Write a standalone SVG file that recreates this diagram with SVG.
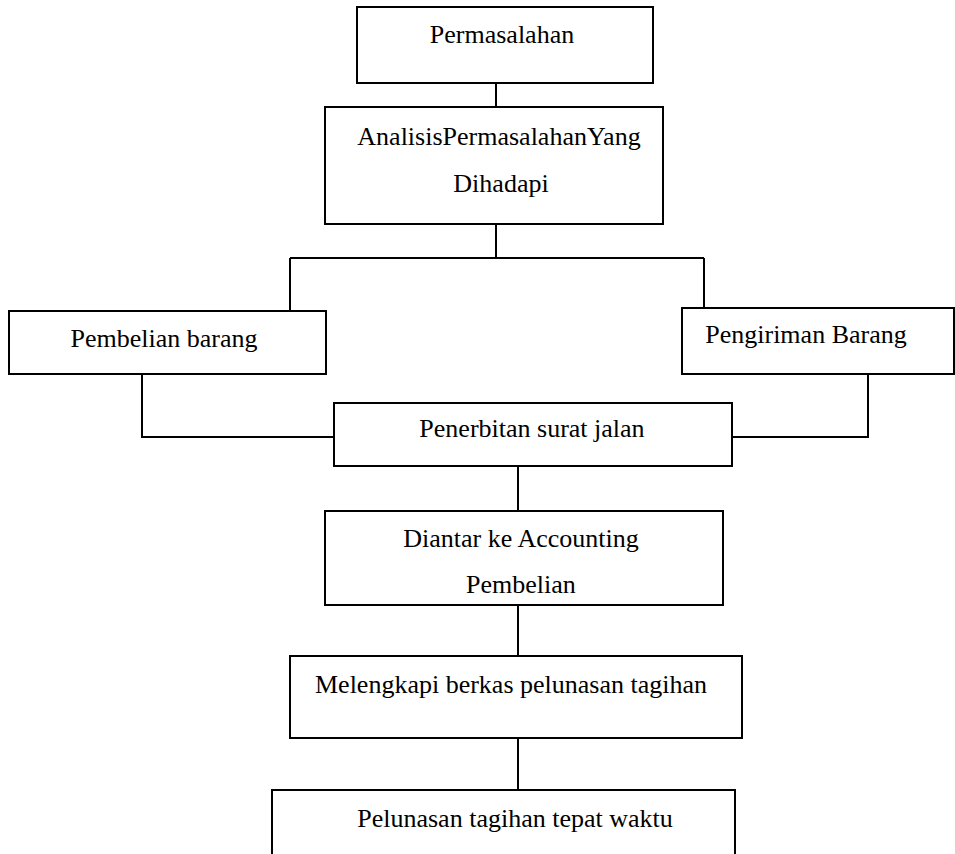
<svg xmlns="http://www.w3.org/2000/svg" width="955" height="854" viewBox="0 0 955 854">
<style>
.box{fill:#fff;stroke:#000;stroke-width:2}
.ln{fill:none;stroke:#000;stroke-width:2}
text{font-family:"Liberation Serif","Times New Roman",serif;font-size:26px;fill:#000;text-anchor:middle}
</style>
<rect width="955" height="854" fill="#fff"/>
<g id="connectors">
<path class="ln" d="M496 83V107"/>
<path class="ln" d="M496 224V258M290 258H704M290 258V310M704 258V308"/>
<path class="ln" d="M142 374V437H334"/>
<path class="ln" d="M868 374V437H733"/>
<path class="ln" d="M518 466V511"/>
<path class="ln" d="M518 605V656"/>
<path class="ln" d="M518 738V790"/>
</g>
<g id="n1"><rect class="box" x="357" y="7" width="296" height="76"/><text x="502" y="43">Permasalahan</text></g>
<g id="n2"><rect class="box" x="325" y="107" width="338" height="117"/><text x="499" y="145">AnalisisPermasalahanYang</text><text x="501" y="192">Dihadapi</text></g>
<g id="n3"><rect class="box" x="9" y="311" width="317" height="63"/><text x="164" y="347">Pembelian barang</text></g>
<g id="n4"><rect class="box" x="682" y="308" width="272" height="66"/><text x="806" y="343">Pengiriman Barang</text></g>
<g id="n5"><rect class="box" x="334" y="403" width="398" height="63"/><text x="532" y="437">Penerbitan surat jalan</text></g>
<g id="n6"><rect class="box" x="325" y="511" width="398" height="94"/><text x="521" y="547">Diantar ke Accounting</text><text x="521" y="593">Pembelian</text></g>
<g id="n7"><rect class="box" x="290" y="656" width="452" height="82"/><text x="511" y="693">Melengkapi berkas pelunasan tagihan</text></g>
<g id="n8"><rect class="box" x="272" y="790" width="463" height="80"/><text x="515" y="827">Pelunasan tagihan tepat waktu</text></g>
</svg>
